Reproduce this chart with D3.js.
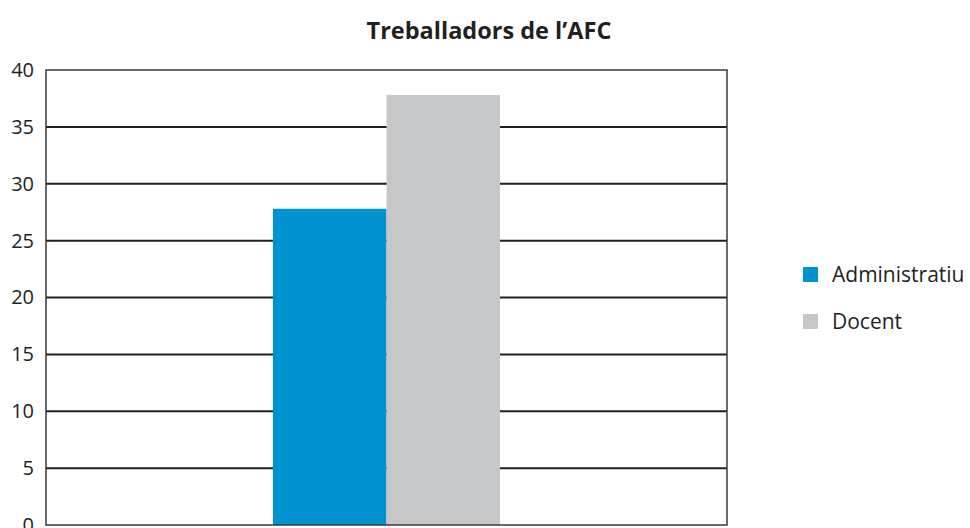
<!DOCTYPE html>
<html>
<head>
<meta charset="utf-8">
<script src="https://cdn.jsdelivr.net/npm/d3@7"></script>
<style>
  body { margin: 0; background: #fff; }
  svg { display: block; font-family: "Open Sans", "Noto Sans", sans-serif; }
</style>
</head>
<body>
<svg width="970" height="528"></svg>
<script>
var categories = [""];
var seriesNames = ["Administratiu", "Docent"];
var seriesValues = [[27.8], [37.8]];
var yTicks = [0, 5, 10, 15, 20, 25, 30, 35, 40];
var colors = ["#0093d0", "#c6c7c9"];

var svg = d3.select("svg"),
    margin = {top: 70, right: 243, bottom: 3, left: 46},
    width = +svg.attr("width") - margin.left - margin.right,
    height = +svg.attr("height") - margin.top - margin.bottom,
    g = svg.append("g").attr("transform", "translate(" + margin.left + "," + margin.top + ")");

var x0 = d3.scaleBand().domain(categories).range([0, width]).paddingInner(0).paddingOuter(1);
var x1 = d3.scaleBand().domain(seriesNames).range([0, x0.bandwidth()]);
var y = d3.scaleLinear().domain([0, 40]).range([height, 0]);

// grid lines
g.append("g")
  .selectAll("line")
  .data(yTicks.filter(d => d > 0 && d < 40))
  .enter().append("line")
    .attr("x1", 0).attr("x2", width)
    .attr("y1", d => y(d)).attr("y2", d => y(d))
    .attr("stroke", "#231f20")
    .attr("stroke-width", 2);

// bars
var groups = g.selectAll(".grp")
  .data(categories)
  .enter().append("g")
    .attr("transform", d => "translate(" + x0(d) + ",0)");

groups.selectAll("rect")
  .data((d, i) => seriesNames.map((s, k) => ({name: s, value: seriesValues[k][i], k: k})))
  .enter().append("rect")
    .attr("x", d => x1(d.name))
    .attr("width", x1.bandwidth())
    .attr("y", d => y(d.value))
    .attr("height", d => height - y(d.value))
    .attr("fill", d => colors[d.k]);

// frame
g.append("rect")
  .attr("x", 0).attr("y", 0)
  .attr("width", width).attr("height", height)
  .attr("fill", "none")
  .attr("stroke", "#3a3a3a")
  .attr("stroke-width", 1.5);

// y axis labels
var yAxis = g.append("g")
  .call(d3.axisLeft(y).tickValues(yTicks).tickSize(0).tickPadding(12));
yAxis.select(".domain").remove();
yAxis.selectAll("text")
  .attr("font-family", "\"Open Sans\", \"Noto Sans\", sans-serif")
  .attr("font-size", 20)
  .attr("fill", "#231f20");

// title
svg.append("text")
  .attr("x", 489).attr("y", 39)
  .attr("text-anchor", "middle")
  .attr("font-size", 23.5)
  .attr("font-weight", "bold")
  .attr("fill", "#231f20")
  .text("Treballadors de l\u2019AFC");

// legend
var legend = svg.append("g").attr("transform", "translate(803,267)");
var items = legend.selectAll("g")
  .data(seriesNames)
  .enter().append("g")
    .attr("transform", (d, i) => "translate(0," + (i * 47) + ")");
items.append("rect")
  .attr("width", 15).attr("height", 15)
  .attr("fill", (d, i) => colors[i]);
items.append("text")
  .attr("x", 29).attr("y", 15)
  .attr("font-size", 21)
  .attr("fill", "#231f20")
  .text(d => d);
</script>
</body>
</html>
